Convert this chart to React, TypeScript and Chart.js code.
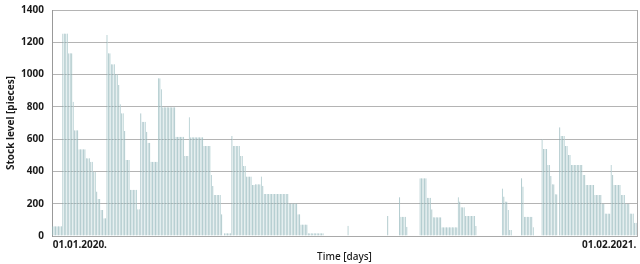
import React, { useEffect, useRef } from "react";
import { Chart, registerables } from "chart.js";

Chart.register(...registerables);

// Daily stock level [pieces], 01.01.2020. .. 01.02.2021.
const stockLevels: number[] = [
  60, 60, 60, 60, 60, 60, 60, 1255, 1255, 1255,
  1255, 1132, 1132, 1132, 832, 655, 655, 655, 537, 537,
  537, 537, 537, 481, 481, 481, 460, 460, 398, 398,
  275, 229, 229, 161, 161, 110, 110, 1245, 1132, 1132,
  1064, 1064, 1064, 1002, 1002, 936, 816, 760, 760, 650,
  471, 471, 471, 286, 286, 286, 286, 286, 165, 165,
  760, 708, 708, 708, 646, 578, 578, 460, 460, 460,
  460, 460, 977, 977, 909, 797, 797, 797, 797, 797,
  797, 797, 797, 797, 615, 615, 615, 615, 615, 615,
  496, 496, 496, 735, 611, 611, 611, 611, 611, 611,
  611, 611, 611, 558, 558, 558, 558, 558, 378, 310,
  254, 254, 254, 254, 254, 134, 0, 17, 17, 17,
  17, 17, 620, 558, 558, 558, 558, 558, 496, 496,
  434, 434, 368, 368, 368, 368, 316, 316, 320, 320,
  320, 320, 368, 312, 260, 260, 260, 260, 260, 260,
  260, 260, 260, 260, 260, 260, 260, 260, 260, 260,
  260, 202, 202, 202, 202, 202, 202, 134, 134, 72,
  72, 72, 72, 72, 17, 17, 17, 17, 17, 17,
  17, 17, 17, 17, 17, 0, 0, 0, 0, 0,
  0, 0, 0, 0, 0, 0, 0, 0, 0, 0,
  0, 64, 0, 0, 0, 0, 0, 0, 0, 0,
  0, 0, 0, 0, 0, 0, 0, 0, 0, 0,
  0, 0, 0, 0, 0, 0, 0, 0, 124, 0,
  0, 0, 0, 0, 0, 0, 240, 120, 120, 120,
  120, 58, 0, 0, 0, 0, 0, 0, 0, 0,
  357, 357, 357, 357, 357, 237, 237, 237, 166, 116,
  116, 116, 116, 116, 116, 54, 54, 54, 54, 54,
  54, 54, 54, 54, 54, 54, 240, 213, 178, 178,
  178, 124, 124, 124, 124, 124, 124, 124, 62, 0,
  0, 0, 0, 0, 0, 0, 0, 0, 0, 0,
  0, 0, 0, 0, 0, 0, 295, 244, 213, 213,
  161, 37, 37, 0, 0, 0, 0, 0, 0, 357,
  306, 120, 120, 120, 120, 120, 120, 54, 0, 0,
  0, 0, 0, 599, 539, 539, 539, 440, 440, 372,
  320, 320, 258, 258, 0, 673, 620, 620, 620, 558,
  558, 502, 502, 440, 440, 440, 440, 440, 440, 440,
  440, 378, 378, 316, 316, 316, 316, 316, 316, 254,
  254, 254, 254, 254, 200, 200, 140, 140, 140, 140,
  440, 378, 316, 316, 316, 316, 316, 254, 254, 254,
  200, 200, 200, 140, 140, 140, 82, 82,
];

const startDate = "01.01.2020.";
const endDate = "01.02.2021.";
const dayCategories: string[] = stockLevels.map((_, i) => `day ${i + 1}`);
const yTicks = { min: 0, max: 1400, step: 200 };

const FONT = "'Noto Sans', 'DejaVu Sans', sans-serif";

const frame = {
  id: "frame",
  afterDraw(chart: any) {
    const { ctx, chartArea } = chart;
    ctx.save();
    ctx.strokeStyle = "#a9a9a9";
    ctx.lineWidth = 1;
    ctx.beginPath();
    ctx.moveTo(Math.round(chartArea.right) + 0.5, chartArea.top);
    ctx.lineTo(Math.round(chartArea.right) + 0.5, chartArea.bottom);
    ctx.stroke();
    ctx.restore();
  },
};

export default function App() {
  const ref = useRef<HTMLCanvasElement | null>(null);
  useEffect(() => {
    if (!ref.current) return;
    const chart = new Chart(ref.current, {
      type: "bar",
      data: {
        labels: dayCategories,
        datasets: [
          {
            data: stockLevels,
            backgroundColor: "#c3dadc",
            borderColor: "#7aa3a8",
            borderWidth: { left: 1, right: 0, top: 0, bottom: 0 },
            borderSkipped: false,
            barPercentage: 0.85,
            categoryPercentage: 1,
          },
        ],
      },
      plugins: [frame],
      options: {
        animation: false,
        responsive: true,
        maintainAspectRatio: false,
        layout: { padding: { left: 0, right: 3, top: 10, bottom: 0 } },
        plugins: { legend: { display: false }, tooltip: { enabled: false } },
        scales: {
          x: {
            grid: { display: false, drawTicks: false },
            border: { display: true, color: "#a9a9a9", width: 1 },
            ticks: {
              autoSkip: false,
              maxRotation: 0,
              minRotation: 0,
              align: "inner",
              padding: 3,
              color: "#1a1a1a",
              font: { family: FONT, size: 10, weight: "bold" },
              callback: (_v: any, i: number, ticks: any[]) =>
                i === 0 ? startDate : i === ticks.length - 1 ? endDate : "",
            },
            title: {
              display: true,
              text: "Time [days]",
              color: "#1a1a1a",
              font: { family: FONT, size: 10, weight: 500 },
              padding: { top: 2, bottom: 1 },
            },
            afterFit: (s: any) => {
              s.height = 28;
            },
          },
          y: {
            min: yTicks.min,
            max: yTicks.max,
            grid: {
              color: "#b4b4b4",
              drawTicks: true,
              tickLength: 8,
              tickColor: "rgba(0,0,0,0)",
            },
            border: { display: true, color: "#999999", width: 1 },
            ticks: {
              stepSize: yTicks.step,
              padding: 0,
              color: "#1a1a1a",
              font: { family: FONT, size: 10, weight: "bold" },
              callback: (v: any) => String(v),
            },
            title: {
              display: true,
              text: "Stock level [pieces]",
              color: "#1a1a1a",
              font: { family: FONT, size: 10, weight: "bold" },
              padding: { top: 5, bottom: 0 },
            },
            afterFit: (s: any) => {
              s.width = 52;
            },
          },
        },
      },
    });
    return () => chart.destroy();
  }, []);
  return (
    <div style={{ position: "fixed", left: 0, top: 0, width: 640, height: 264 }}>
      <canvas ref={ref} />
    </div>
  );
}
